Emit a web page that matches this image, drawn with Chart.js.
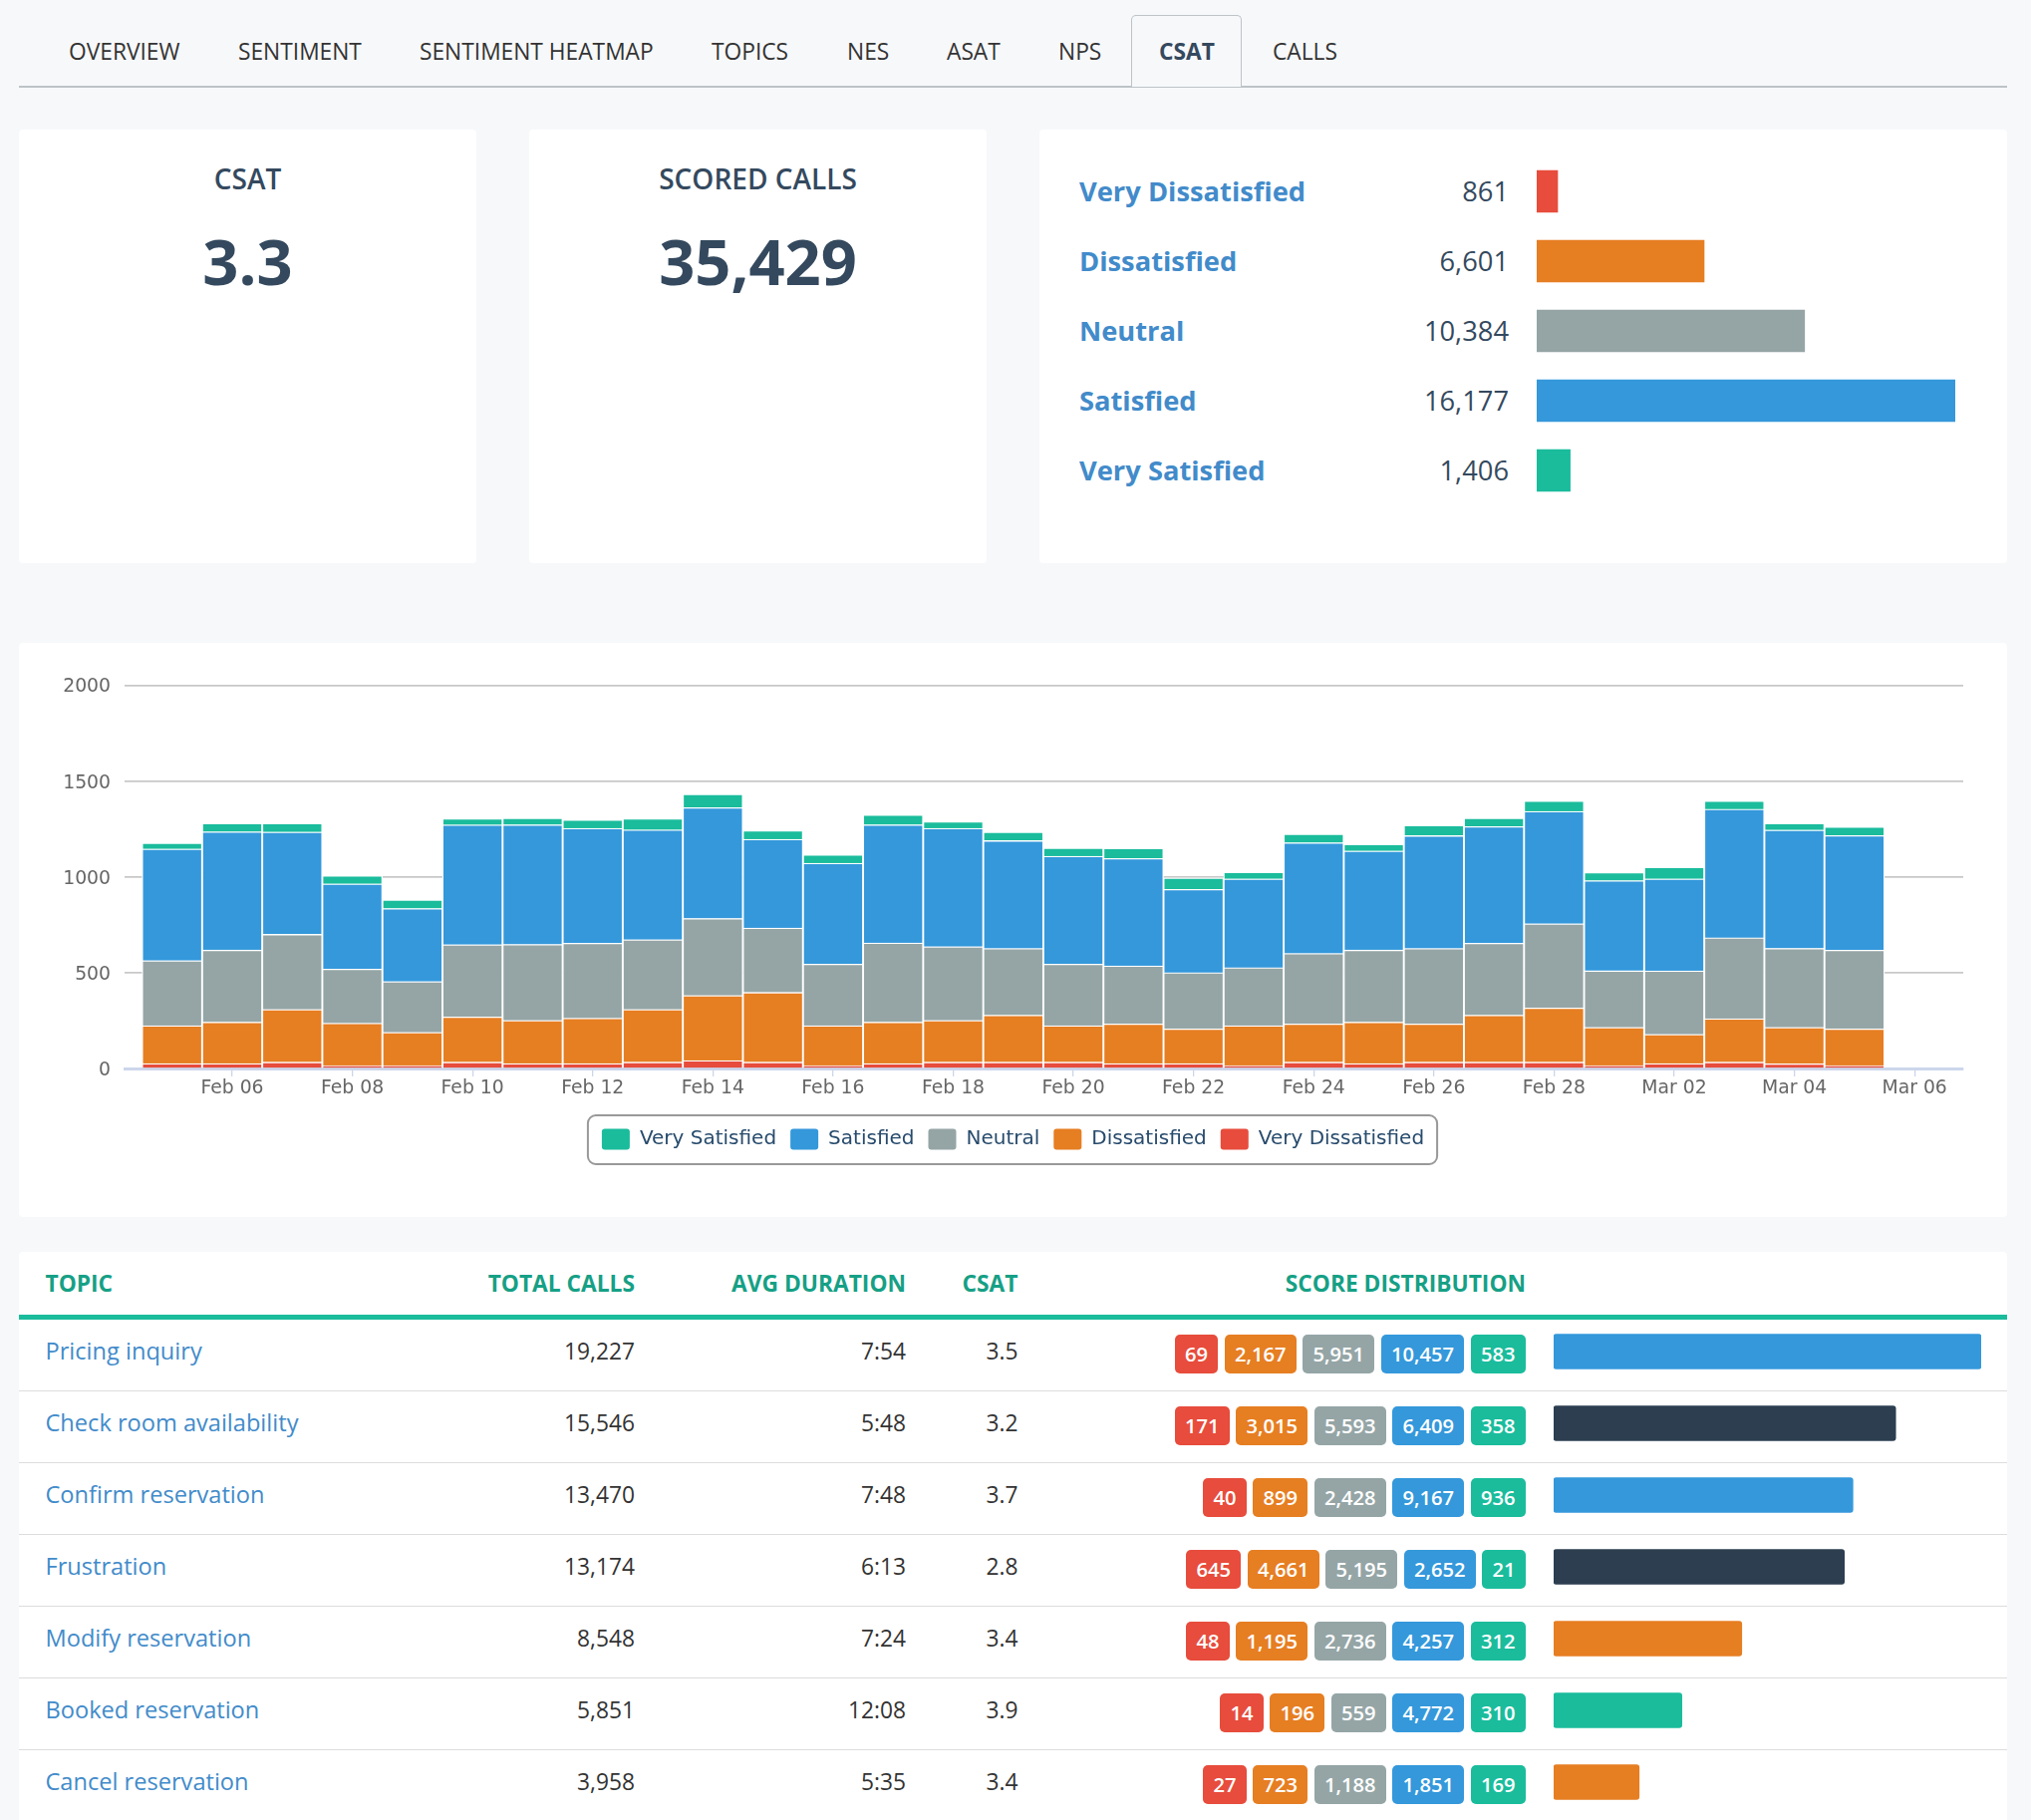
<!DOCTYPE html>
<html><head><meta charset="utf-8">
<script src="https://cdn.jsdelivr.net/npm/chart.js@4"></script>
<style>
html,body{margin:0;padding:0;background:#f7f8fa;width:2038px;height:1826px;overflow:hidden;font-family:"Open Sans",sans-serif;}
#page{position:relative;width:2038px;height:1826px;overflow:hidden;}
.card{position:absolute;background:#fff;border-radius:4px;}
.t{position:absolute;white-space:nowrap;transform:translateY(-50%);line-height:1.2;}
.sep{position:absolute;left:19px;width:1995px;height:1.5px;background:#dddddd;}
.badges{position:absolute;display:flex;gap:6.2px;justify-content:flex-end;right:507px;height:39px;}
.badge{height:39px;line-height:39px;padding:0 10.4px;border-radius:5px;color:#fff;font-size:20.15px;font-weight:600;}
canvas{position:absolute;display:block;}
</style></head><body>
<div id="page"></div>
<script>
// ---- tabs and summary ----
const tabLabels = ["OVERVIEW","SENTIMENT","SENTIMENT HEATMAP","TOPICS","NES","ASAT","NPS","CSAT","CALLS"];
const tabLefts  = [69,239,421,714,850,950,1062,1163,1277];
const csatScore = "3.3";
const scoredCalls = "35,429";

// ---- score totals ----
const scoreNames  = ["Very Dissatisfied","Dissatisfied","Neutral","Satisfied","Very Satisfied"];
const scoreTotals = [861,6601,10384,16177,1406];
const scoreBarPct = [5,40,64,100,8];
const scoreColors = ["#e74c3c","#e67e22","#95a5a6","#3498db","#1abc9c"];

// ---- daily stacked chart ----
const days = ["Feb 05","Feb 06","Feb 07","Feb 08","Feb 09","Feb 10","Feb 11","Feb 12","Feb 13","Feb 14","Feb 15","Feb 16","Feb 17","Feb 18","Feb 19","Feb 20","Feb 21","Feb 22","Feb 23","Feb 24","Feb 25","Feb 26","Feb 27","Feb 28","Mar 01","Mar 02","Mar 03","Mar 04","Mar 05"];
const veryDissatisfied = [26,26,33,15,15,33,26,26,33,41,33,15,26,33,33,33,26,26,15,33,26,33,33,33,15,26,33,24,15];
const dissatisfied     = [197,216,275,221,173,236,225,236,275,340,364,208,216,218,245,190,206,180,208,199,216,199,245,283,199,152,227,190,191];
const neutral          = [340,376,392,283,266,377,396,392,364,402,336,322,413,385,348,322,303,294,303,368,376,394,376,439,296,331,422,413,411];
const satisfied        = [582,617,534,444,381,625,625,599,573,578,463,526,617,617,563,563,561,435,463,578,517,589,608,587,470,480,671,617,599];
const verySatisfied    = [32,45,45,43,45,33,35,45,59,71,46,45,52,35,45,43,54,59,35,45,35,54,45,54,43,61,43,35,45];
const xTickPositions = [1,3,5,7,9,11,13,15,17,19,21,23,25,27,29];
const xTickLabels = ["Feb 06","Feb 08","Feb 10","Feb 12","Feb 14","Feb 16","Feb 18","Feb 20","Feb 22","Feb 24","Feb 26","Feb 28","Mar 02","Mar 04","Mar 06"];
const yTicks = [0,500,1000,1500,2000];

// ---- topic table ----
const topics = ["Pricing inquiry","Check room availability","Confirm reservation","Frustration","Modify reservation","Booked reservation","Cancel reservation"];
const totalCalls = [19227,15546,13470,13174,8548,5851,3958];
const topicBarPct = [100,80,70,68,44,30,20];
const avgDuration = ["7:54","5:48","7:48","6:13","7:24","12:08","5:35"];
const topicCsat = ["3.5","3.2","3.7","2.8","3.4","3.9","3.4"];
const topicVeryDis = [69,171,40,645,48,14,27];
const topicDis     = [2167,3015,899,4661,1195,196,723];
const topicNeutral = [5951,5593,2428,5195,2736,559,1188];
const topicSat     = [10457,6409,9167,2652,4257,4772,1851];
const topicVerySat = [583,358,936,21,312,310,169];
const topicBarColors = ["#3498db","#2c3e50","#3498db","#2c3e50","#e67e22","#1abc9c","#e67e22"];

const page = document.getElementById('page');
const fmt = n => n.toLocaleString('en-US');
function el(cls, style, text){ const d=document.createElement('div'); d.className=cls; d.style.cssText=style; if(text!==undefined)d.textContent=text; page.appendChild(d); return d; }
function txt(text,x,y,size,color,weight,align){
  const pos = align==='right' ? `right:${2038-x}px;` : align==='center' ? `left:${x-500}px;width:1000px;text-align:center;` : `left:${x}px;`;
  return el('t',`${pos}top:${y}px;font-size:${size}px;color:${color};font-weight:${weight||400};`,text);
}
function addCanvas(x,y,w,h){ const c=document.createElement('canvas'); c.width=w;c.height=h; c.style.cssText=`left:${x}px;top:${y}px;width:${w}px;height:${h}px;`; page.appendChild(c); return c; }

// tabs
el('', 'position:absolute;left:19px;top:86px;width:1995px;height:1.5px;background:#bdc3c7;');
el('', 'position:absolute;left:1135px;top:15px;width:111px;height:72px;box-sizing:border-box;border:1.5px solid #bdc3c7;border-bottom:none;border-radius:5px 5px 0 0;background:#f7f8fa;');
tabLabels.forEach((l,i)=>txt(l,tabLefts[i],52,22.75,l==='CSAT'?'#34495e':'#333333',l==='CSAT'?700:400));

// cards
el('card','left:19px;top:130px;width:459px;height:435px;');
el('card','left:530.5px;top:130px;width:459.5px;height:435px;');
el('card','left:1043px;top:130px;width:971px;height:435px;');
el('card','left:19px;top:645px;width:1995px;height:576px;');
el('card','left:19px;top:1256px;width:1995px;height:600px;');

txt('CSAT',248.5,180,28,'#34495e',600,'center');
txt('SCORED CALLS',760.5,180,28,'#34495e',600,'center');
txt(csatScore,248.5,262,63.2,'#34495e',700,'center');
txt(scoredCalls,760.5,262,63.2,'#34495e',700,'center');

// score rows
scoreNames.forEach((n,i)=>{
  const y=192+70*i;
  txt(n,1083,y,27.3,'#428bca',700);
  txt(fmt(scoreTotals[i]),1514,y,27.3,'#34495e',400,'right');
});
new Chart(addCanvas(1542,157,420,350),{type:'bar',
  data:{labels:scoreNames,datasets:[{data:scoreBarPct,backgroundColor:scoreColors,barThickness:42,borderWidth:0}]},
  options:{indexAxis:'y',responsive:false,animation:false,layout:{padding:0},
    plugins:{legend:{display:false},tooltip:{enabled:false}},
    scales:{x:{display:false,min:0,max:100},y:{display:false}}}});

// stacked chart
const legendFrame={id:'legendFrame',beforeDraw(chart){
  const hb=chart.legend.legendHitBoxes; if(!hb||!hb.length)return;
  const l=Math.min(...hb.map(b=>b.left)), r=Math.max(...hb.map(b=>b.left+b.width));
  const top=hb[0].top, bottom=hb[0].top+hb[0].height;
  const c=chart.ctx; c.save(); c.beginPath();
  c.roundRect(l-14,top-13.5,r-l+27,bottom-top+28,8);
  c.lineWidth=2;c.strokeStyle='#999999';c.stroke();c.restore();
}};
const series=[
 {label:'Very Dissatisfied',values:veryDissatisfied,color:scoreColors[0]},
 {label:'Dissatisfied',values:dissatisfied,color:scoreColors[1]},
 {label:'Neutral',values:neutral,color:scoreColors[2]},
 {label:'Satisfied',values:satisfied,color:scoreColors[3]},
 {label:'Very Satisfied',values:verySatisfied,color:scoreColors[4]}];
const chartFont='"DejaVu Sans"';
new Chart(addCanvas(19,645,1995,576),{type:'bar',
  data:{datasets:series.map(s=>({label:s.label,data:s.values.map((v,i)=>({x:i,y:v})),backgroundColor:s.color,borderColor:'#ffffff',borderWidth:1.3,borderSkipped:'bottom',barPercentage:1,categoryPercentage:1}))},
  options:{responsive:false,animation:false,
    layout:{padding:{left:44,right:44,top:42.5,bottom:57.5}},
    plugins:{tooltip:{enabled:false},
      legend:{position:'bottom',reverse:true,labels:{boxWidth:28,boxHeight:21,padding:14,color:'#274b6d',useBorderRadius:true,borderRadius:3,font:{family:chartFont,size:20},
        generateLabels(chart){return Chart.defaults.plugins.legend.labels.generateLabels(chart).map(i=>({...i,lineWidth:0}));}}}},
    scales:{
      x:{type:'linear',stacked:true,offset:false,min:-0.791,max:29.81,
        grid:{display:true,offset:false,drawOnChartArea:false,drawTicks:true,tickLength:8,color:'#ccd6eb',lineWidth:1.3},
        border:{color:'#ccd6eb',width:3},
        afterBuildTicks(s){s.ticks=xTickPositions.map(v=>({value:v}));},
        afterFit(s){s.height=46.5;},
        ticks:{autoSkip:false,maxRotation:0,minRotation:0,padding:1,color:'#666666',font:{family:chartFont,size:18.8},callback:(v,i)=>xTickLabels[i]}},
      y:{stacked:true,min:0,max:2000,
        afterBuildTicks(s){s.ticks=yTicks.map(v=>({value:v}));},
        afterFit(s){s.width=62;},
        grid:{color:'#c8c8c8',lineWidth:1.7,drawTicks:false},border:{display:false},
        ticks:{padding:14,labelOffset:2,color:'#666666',font:{family:chartFont,size:18.8},callback:v=>String(v)}}
    }},plugins:[legendFrame]});

// table header
const H=1288, teal='#16a085';
txt('TOPIC',45.5,H,22.75,teal,700);
txt('TOTAL CALLS',637,H,22.75,teal,700,'right');
txt('AVG DURATION',909,H,22.75,teal,700,'right');
txt('CSAT',1021.5,H,22.75,teal,700,'right');
txt('SCORE DISTRIBUTION',1531,H,22.75,teal,700,'right');
el('', 'position:absolute;left:19px;top:1319px;width:1995px;height:5px;background:#1abc9c;');
topics.forEach((name,i)=>{
  const y=1355.5+72*i;
  if(i<6) el('sep',`top:${1394.5+72*i}px;`);
  txt(name,45.5,y-0.5,23.6,'#428bca',400);
  txt(fmt(totalCalls[i]),637,y,22.75,'#333333',400,'right');
  txt(avgDuration[i],909,y,22.75,'#333333',400,'right');
  txt(topicCsat[i],1021.5,y,22.75,'#333333',400,'right');
  const row=el('badges',`top:${1339+72*i}px;`);
  [topicVeryDis,topicDis,topicNeutral,topicSat,topicVerySat].forEach((arr,k)=>{
    const b=document.createElement('div');b.className='badge';b.style.background=scoreColors[k];b.textContent=fmt(arr[i]);row.appendChild(b);
  });
});
new Chart(addCanvas(1559,1320,429,504),{type:'bar',
  data:{labels:topics,datasets:[{data:topicBarPct,backgroundColor:topicBarColors,barThickness:35,borderRadius:3,borderSkipped:false,borderWidth:0}]},
  options:{indexAxis:'y',responsive:false,animation:false,layout:{padding:0},
    plugins:{legend:{display:false},tooltip:{enabled:false}},
    scales:{x:{display:false,min:0,max:100},y:{display:false}}}});
</script>
</body></html>
